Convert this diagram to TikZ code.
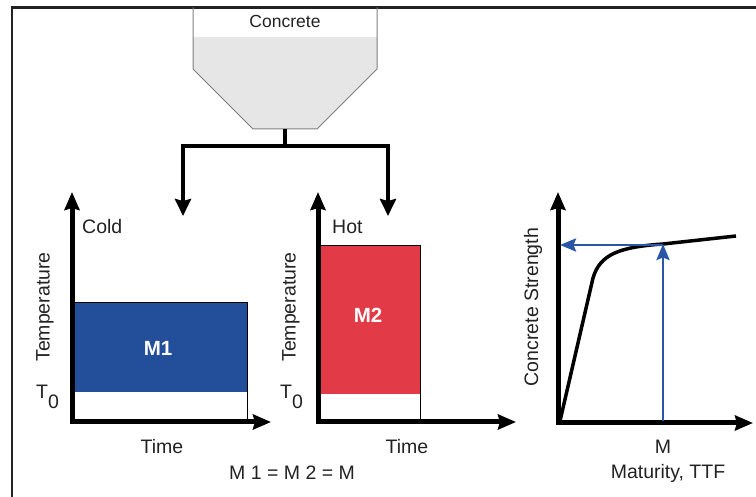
\documentclass[tikz,border=0pt]{standalone}
\usepackage{fontspec}
\setmainfont{Liberation Sans}
\usetikzlibrary{arrows.meta}
\definecolor{hopperfill}{HTML}{E6E6E6}
\definecolor{hopperline}{HTML}{7F7F7F}
\definecolor{coldblue}{HTML}{224E9A}
\definecolor{hotred}{HTML}{E23A47}
\definecolor{readblue}{HTML}{2A56A6}
\definecolor{ink}{HTML}{222222}

\begin{document}
\begin{tikzpicture}[x=1pt,y=-1pt,
  txt/.style={inner sep=0pt, text=ink, font=\fontsize{19.5}{21}\selectfont},
  big/.style={inner sep=0pt, text=white, font=\fontsize{20.5}{22}\selectfont\bfseries},
  axis/.style={line width=5pt, line join=miter, draw=black,
    {Stealth[length=18pt,width=15pt,inset=2pt]}-{Stealth[length=18pt,width=15pt,inset=2pt]}},
  feed/.style={line width=4pt, line join=miter, draw=black,
    -{Stealth[length=17pt,width=16pt,inset=2pt]}},
  readout/.style={line width=2.8pt, draw=readblue,
    -{Stealth[length=16pt,width=13pt,inset=2.5pt]}},
  curve/.style={line width=3.5pt, draw=black, line join=round},
  hopperedge/.style={draw=hopperline, line width=1pt, line join=miter},
  boxedge/.style={draw=black, line width=1pt}]

\useasboundingbox (0,0) rectangle (756,497);

% frame
\draw[line width=2.2pt, draw=ink] (12,497) -- (12,7.5) -- (756,7.5);

% hopper
\fill[hopperfill] (193,37) -- (193,69) -- (253,129) -- (317,129) -- (377,69) -- (377,37) -- cycle;
\draw[hopperedge] (193,7.5) -- (193,69) -- (253,129) -- (317,129) -- (377,69) -- (377,7.5);
\node[txt, font=\fontsize{17.5}{19}\selectfont] (hopperlabel) at (285,21) {Concrete};
\coordinate (hopout) at (285,129);
\coordinate (split) at (285,146);
\coordinate (coldin) at (183,216);
\coordinate (hotin) at (388,216);

% feed lines
\draw[line width=4pt] (hopout) -- (split);
\draw[feed] (split) -| (coldin);
\draw[feed] (split) -| (hotin);

% cold chart
\fill[coldblue] (72,303) rectangle (247,392);
\draw[boxedge] (72,303) rectangle (247,422);
\coordinate (c-top) at (72,192);
\coordinate (c-org) at (72,422);
\coordinate (c-right) at (271,422);
\draw[axis] (c-top) -- (c-org) -- (c-right);
\node[big] (m1) at (158,348) {M1};
\node[txt, anchor=west] (cold) at (82,227) {Cold};
\node[txt, rotate=90] (templeft) at (45,307) {Temperature};
\node[txt, anchor=west] (t0left) at (36,397) {T\raisebox{-0.5em}{0}};
\node[txt] (timeleft) at (162,447) {Time};

% hot chart
\fill[hotred] (318,246) rectangle (420,394);
\draw[boxedge] (318,246) rectangle (420,422);
\coordinate (h-top) at (318,192);
\coordinate (h-org) at (318,422);
\coordinate (h-right) at (516,422);
\draw[axis] (h-top) -- (h-org) -- (h-right);
\node[big] (m2) at (368,315) {M2};
\node[txt, anchor=west] (hot) at (332,227) {Hot};
\node[txt, rotate=90] (tempmid) at (291,307) {Temperature};
\node[txt, anchor=west] (t0mid) at (280,397) {T\raisebox{-0.5em}{0}};
\node[txt] (timemid) at (407,447) {Time};

\node[txt] (equal) at (292,473) {M 1 = M 2 = M};

% strength chart
\coordinate (s-top) at (558,192);
\coordinate (s-org) at (558,423);
\coordinate (s-right) at (753,423);
\draw[curve] (560,421) -- (593,278) .. controls (600,254) and (620,247) .. (663,244) -- (736,236);
\draw[axis] (s-top) -- (s-org) -- (s-right);
\coordinate (mx) at (663,421);
\coordinate (meet) at (663,244);
\coordinate (sy) at (560,245);
\draw[readout] (mx) -- (meet);
\draw[readout] (meet |- sy) -- (sy);
\node[txt, rotate=90] (strength) at (533,307) {Concrete Strength};
\node[txt] (mlabel) at (663,447) {M};
\node[txt] (maturity) at (668,473) {Maturity, TTF};

\end{tikzpicture}
\end{document}
